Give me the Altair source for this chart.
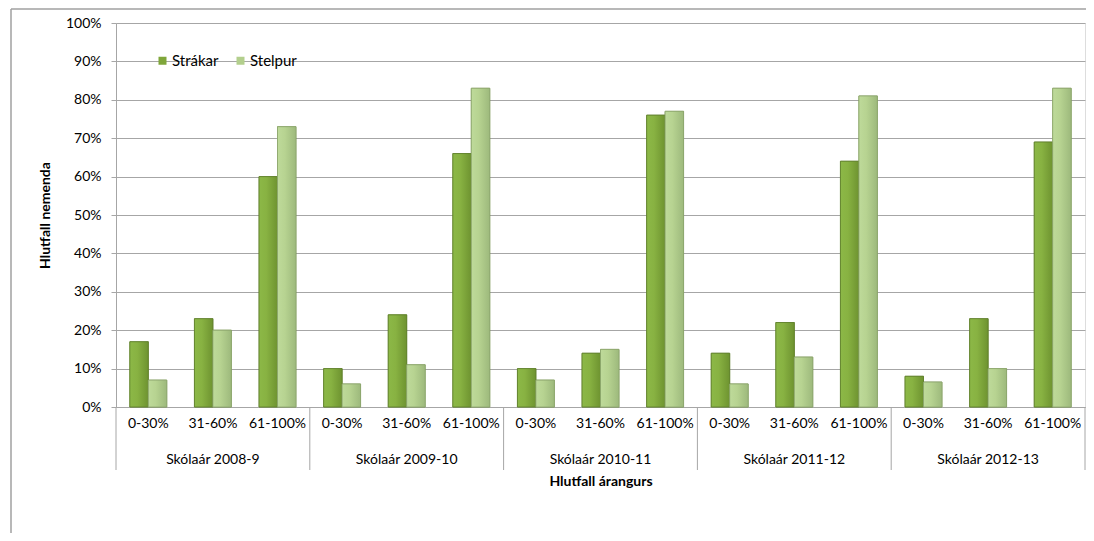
import altair as alt
import pandas as pd

years = ["2008-9", "2009-10", "2010-11", "2011-12", "2012-13"]
ranges = ["0-30%", "31-60%", "61-100%"]
series = ["Strákar", "Stelpur"]
strakar = [17, 23, 60, 10, 24, 66, 10, 14, 76, 14, 22, 64, 8, 23, 69]
stelpur = [7, 20, 73, 6, 11, 83, 7, 15, 77, 6, 13, 81, 6.5, 10, 83]

cats = [f"{y}|{r}" for y in years for r in ranges]
rows = []
for i, c in enumerate(cats):
    rows.append({"cat": c, "series": "Strákar", "value": strakar[i] / 100})
    rows.append({"cat": c, "series": "Stelpur", "value": stelpur[i] / 100})
df = pd.DataFrame(rows)

year_df = pd.DataFrame({"cat": [f"{y}|31-60%" for y in years],
                        "label": [f"Skólaár {y}" for y in years]})
sep_df = pd.DataFrame({"cat": [f"{y}|0-30%" for y in years]})
end_df = pd.DataFrame({"cat": [cats[-1]]})

W, H = 969, 384
FONT = "Lato"
FS = 14
GRID = "#A6A6A6"

xscale = alt.Scale(domain=cats, paddingInner=0, paddingOuter=0)
yscale = alt.Scale(domain=[0, 1], nice=False)

x_axis = alt.Axis(title="Hlutfall árangurs", labelExpr="split(datum.label, '|')[1]",
                  labelAngle=0, ticks=False, labelPadding=9, labelFontSize=FS,
                  labelColor="#000000", domainColor=GRID, titleFontSize=FS,
                  titleFontWeight="bold", titleColor="#000000", titlePadding=44,
                  labelFont=FONT, titleFont=FONT, grid=False)
y_axis = alt.Axis(title="Hlutfall nemenda", format=".0%",
                  values=[i / 10 for i in range(11)], tickSize=5, tickColor=GRID,
                  domainColor=GRID, gridColor=GRID, grid=True, labelPadding=10,
                  labelFontSize=FS, labelColor="#000000", titleFontSize=FS,
                  titleFontWeight="bold", titleColor="#000000", titlePadding=13,
                  labelFont=FONT, titleFont=FONT)

def xe(**kw):
    return alt.X("cat:N", scale=xscale, sort=cats, axis=x_axis, **kw)

def ye():
    return alt.Y("value:Q", scale=yscale, axis=y_axis)

xoff = alt.XOffset("series:N", sort=series,
                   scale=alt.Scale(domain=series, paddingOuter=0.75, paddingInner=0))

color = alt.Color("series:N", sort=series,
                  scale=alt.Scale(domain=series, range=["#7FA63A", "#B3CF8D"]),
                  legend=alt.Legend(title=None, orient="none", legendX=39, legendY=30,
                                    direction="horizontal", symbolType="square",
                                    symbolSize=64, symbolStrokeWidth=0, labelFontSize=15,
                                    labelFont=FONT, labelColor="#000000", columnPadding=14,
                                    labelOffset=2))

bars = alt.Chart(df).mark_bar(strokeWidth=0.8, strokeOpacity=0.8, stroke="#5F7F2C").encode(
    x=xe(), xOffset=xoff, y=ye(), color=color)

grad_s = alt.Gradient(gradient="linear", x1=0, x2=1, y1=0, y2=0, stops=[
    alt.GradientStop(color="#8CB847", offset=0),
    alt.GradientStop(color="#88B242", offset=0.4),
    alt.GradientStop(color="#6E9330", offset=1)])
grad_g = alt.Gradient(gradient="linear", x1=0, x2=1, y1=0, y2=0, stops=[
    alt.GradientStop(color="#BEDA9A", offset=0),
    alt.GradientStop(color="#B7D391", offset=0.4),
    alt.GradientStop(color="#9DB97C", offset=1)])

over_s = alt.Chart(df).transform_filter(alt.datum.series == "Strákar").mark_bar(
    fill=grad_s, stroke="#5E7D2B", strokeWidth=0.8).encode(
    x=xe(), xOffset=xoff, y=ye())
over_g = alt.Chart(df).transform_filter(alt.datum.series == "Stelpur").mark_bar(
    fill=grad_g, stroke="#8DA66E", strokeWidth=0.8).encode(
    x=xe(), xOffset=xoff, y=ye())

year_text = alt.Chart(year_df).mark_text(fontSize=FS, font=FONT, color="#000000",
                                         baseline="middle").encode(
    x=xe(), y=alt.value(437), text="label:N")

seps = alt.Chart(sep_df).mark_rule(color=GRID, strokeWidth=1).encode(
    x=xe(bandPosition=0), y=alt.value(H), y2=alt.value(H + 63))
end_sep = alt.Chart(end_df).mark_rule(color=GRID, strokeWidth=1).encode(
    x=xe(bandPosition=1), y=alt.value(H), y2=alt.value(H + 63))

frame_top = alt.Chart(end_df).mark_rule(color="#A0A0A0", strokeWidth=1.5).encode(
    x=alt.value(-105), x2=alt.value(W + 1), y=alt.value(-14))
frame_left = alt.Chart(end_df).mark_rule(color="#A0A0A0", strokeWidth=1.5).encode(
    x=alt.value(-105), y=alt.value(-14), y2=alt.value(H + 130))

chart = alt.layer(bars, over_s, over_g, year_text, seps, end_sep, frame_top, frame_left).properties(
    width=W, height=H,
    autosize=alt.AutoSizeParams(type="none"),
    padding={"left": 108, "top": 15, "right": 1, "bottom": 126},
).configure_view(stroke=None).configure(font=FONT)

chart.save("out.html", embed_options={"renderer": "svg", "actions": False})
